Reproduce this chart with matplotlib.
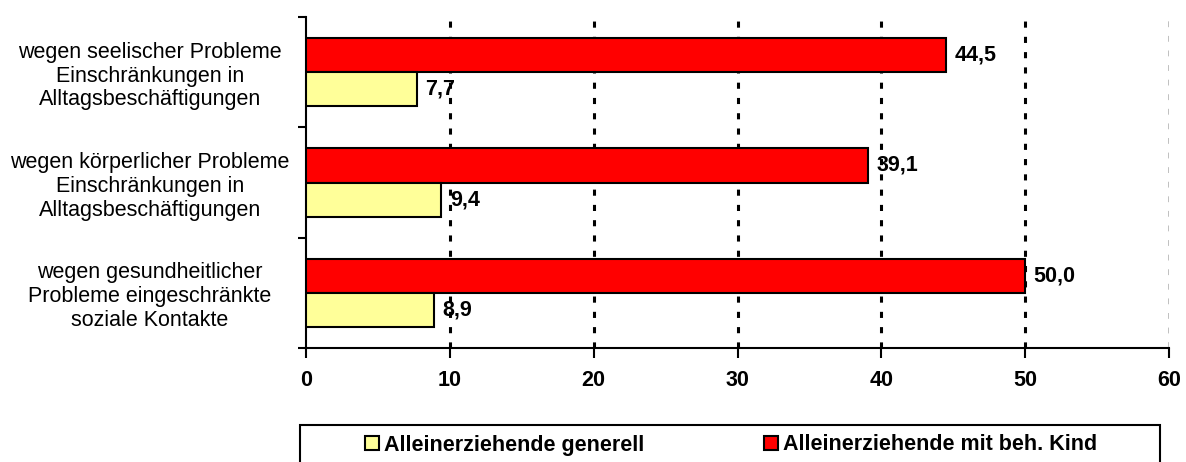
import matplotlib.pyplot as plt
from matplotlib.patches import Rectangle

plt.rcParams['font.family'] = ['Liberation Sans', 'DejaVu Sans']

# categories listed bottom to top
categories = [
    "wegen gesundheitlicher\nProbleme eingeschränkte\nsoziale Kontakte",
    "wegen körperlicher Probleme\nEinschränkungen in\nAlltagsbeschäftigungen",
    "wegen seelischer Probleme\nEinschränkungen in\nAlltagsbeschäftigungen",
]
generell = [8.9, 9.4, 7.7]
beh_kind = [50.0, 39.1, 44.5]
series_names = ["Alleinerziehende generell", "Alleinerziehende mit beh. Kind"]
x_ticks = [0, 10, 20, 30, 40, 50, 60]

fig = plt.figure(figsize=(11.86, 4.62), dpi=100)
ax = fig.add_axes([306 / 1186, 1 - 348 / 462, 863 / 1186, 331 / 462])

centers = [i + 0.5 for i in range(len(categories))]
h = 0.31
b_red = ax.barh([c + h / 2 for c in centers], beh_kind, height=h,
                color="#ff0000", edgecolor="black", linewidth=1.5, zorder=3,
                label=series_names[1])
b_yel = ax.barh([c - h / 2 for c in centers], generell, height=h,
                color="#ffff99", edgecolor="black", linewidth=1.5, zorder=3,
                label=series_names[0])

for c, v in zip(centers, beh_kind):
    ax.text(v + 0.6, c + h / 2, f"{v:.1f}".replace(".", ","), va="center",
            ha="left", fontsize=15.5, fontweight="bold", zorder=4)
for c, v in zip(centers, generell):
    ax.text(v + 0.6, c - h / 2, f"{v:.1f}".replace(".", ","), va="center",
            ha="left", fontsize=15.5, fontweight="bold", zorder=4)

ax.set_xlim(0, 60)
ax.set_ylim(0, 3)
ax.set_xticks(x_ticks)
ax.set_xticklabels([str(t) for t in x_ticks], fontsize=15.5, fontweight="bold")
ax.set_yticks([0, 1, 2, 3])
ax.set_yticklabels([])
ax.set_yticks(centers, minor=True)
ax.set_yticklabels(categories, minor=True, fontsize=15.5, ha="center",
                   multialignment="center", linespacing=1.17)
ax.tick_params(axis="y", which="minor", length=0, pad=156 * 0.72)
ax.tick_params(axis="y", which="major", length=6, width=1.5, direction="out")
ax.tick_params(axis="x", length=7, width=1.5, direction="out", pad=9)

for t in x_ticks[1:-1]:
    ax.axvline(t, color="black", linestyle=(0, (2, 3)), linewidth=2.2, zorder=1)
ax.axvline(60, color="#c0c0c0", linestyle=(0, (3, 4.5)), linewidth=1.4, zorder=1)

for s in ["top", "right"]:
    ax.spines[s].set_visible(False)
ax.spines["left"].set_linewidth(1.5)
ax.spines["bottom"].set_linewidth(1.5)

# legend frame runs past the bottom edge
fig.patches.append(Rectangle((300 / 1186, -0.05), 860 / 1186, 0.05 + 37 / 462,
                             transform=fig.transFigure, fill=False,
                             edgecolor="black", linewidth=1.5))
fig.legend([b_yel, b_red], series_names, loc="center",
           bbox_to_anchor=(731 / 1186, 1 - 445 / 462), ncol=2, frameon=False,
           prop={"size": 15.5, "weight": "bold"}, handlelength=0.65,
           handleheight=0.65, handletextpad=0.2, columnspacing=5.6)

fig.savefig("out.png", dpi=100)
